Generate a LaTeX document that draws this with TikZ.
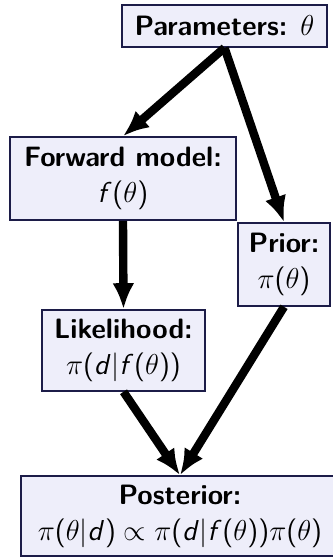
\documentclass[tikz,border=0pt]{standalone}
\usepackage{tikz}
\usetikzlibrary{arrows.meta,positioning}
% sans letters and brackets in formulas, as on slides
\DeclareSymbolFont{sfletters}{OT1}{cmss}{m}{sl}
\DeclareMathSymbol{f}{\mathalpha}{sfletters}{`f}
\DeclareMathSymbol{d}{\mathalpha}{sfletters}{`d}
\SetSymbolFont{operators}{normal}{OT1}{cmss}{m}{n}

\definecolor{boxfill}{RGB}{238,238,250}
\definecolor{boxline}{RGB}{28,28,72}

\newcommand{\stagetitle}[1]{{\fontsize{14}{18}\selectfont\bfseries #1}}

\tikzset{
  stage/.style={draw=boxline, line width=0.8pt, fill=boxfill, align=center,
    inner sep=2pt, font=\fontsize{15}{18}\selectfont\sffamily},
  flow/.style={-{Latex[length=13pt,width=11pt]}, line width=4.2pt}
}

\begin{document}
\begin{tikzpicture}[x=0.5pt, y=-0.5pt]
                \useasboundingbox (0,0) rectangle (333,559);

                % Parameters
                \node[stage, minimum width=102.5pt, minimum height=21pt] (params) at (224.5,26)
                    {\stagetitle{Parameters:} $\theta$};

                % Forward model and prior
                \node[stage, minimum width=113pt, minimum height=41.5pt] (fwd) at (123,178.5)
                    {\stagetitle{Forward model:}\\ $f(\theta)$};
                \node[stage, minimum width=46pt, minimum height=41.5pt] (prior) at (284,264.5)
                    {\stagetitle{Prior:}\\ $\pi(\theta)$};

                % Likelihood
                \node[stage, minimum width=81.5pt, minimum height=40.5pt] (like) at (123.5,350.5)
                    {\stagetitle{Likelihood:}\\ $\pi(d|f(\theta))$};

                % Posterior
                \node[stage, minimum width=159pt, minimum height=40pt] (post) at (180,516)
                    {\stagetitle{Posterior:}\\ $\pi(\theta|d) \propto \pi(d|f(\theta))\pi(\theta)$};

                % Arrows
                \draw[flow] (params.south) -- (fwd.north);
                \draw[flow] (params.south) -- (prior.north);
                \draw[flow] (fwd.south) -- (like.north);
                \draw[flow] (like.south) -- (post.north);
                \draw[flow] (prior.south) -- (post.north);
            \end{tikzpicture}
\end{document}
